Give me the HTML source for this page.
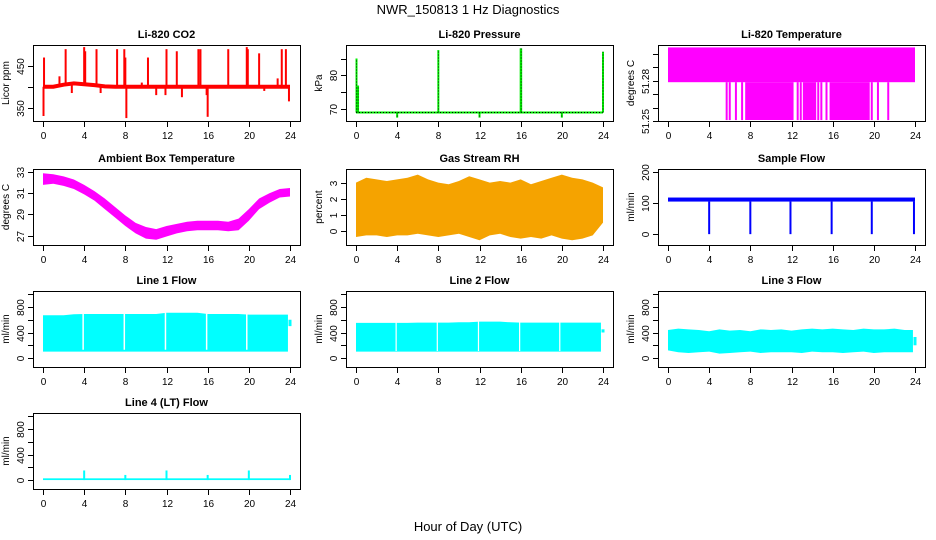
<!DOCTYPE html>
<html><head><meta charset="utf-8">
<style>
html,body{margin:0;padding:0;background:#fff;}
svg{display:block;font-family:"Liberation Sans",Arial,sans-serif;}
</style></head>
<body>
<svg id="fig" width="936" height="540" viewBox="0 0 936 540">
<text x="468" y="14" text-anchor="middle" font-size="13">NWR_150813  1 Hz Diagnostics</text>
<text x="468" y="531" text-anchor="middle" font-size="13">Hour of Day (UTC)</text>
</svg>
<script>
// ---- data ----
const hours = [0,1,2,3,4,5,6,7,8,9,10,11,12,13,14,15,16,17,18,19,20,21,22,23,24];
const xTicks = [0,4,8,12,16,20,24];
// CO2
const co2Base = [400,400,405,408,406,404,401,400,400,400,400,400,400,400,400,400,400,400,400,400,400,400,400,400,400];
const co2SpikeT = [0.05,0.1,1.6,2.2,2.8,4.0,4.1,5.2,5.6,7.2,7.9,8.0,8.1,9.6,10.2,11.0,11.9,12.0,13.0,13.5,15.1,15.3,15.9,16.0,18.0,19.8,19.9,21.0,21.5,22.8,23.2,23.6,23.9];
const co2SpikeV = [330,470,425,490,385,495,485,490,385,490,490,470,325,410,470,380,380,490,485,375,490,490,380,328,490,495,490,480,390,420,490,490,365];
// Pressure
const presBase = 69;
const presSpikeT = [0.05,0.2,4.0,8.0,12.0,16.0,16.05,20.0,24.0];
const presSpikeV = [85,77,67.5,87.5,67.5,88,88,67.5,87];
// Li-820 temperature
const ltTop = 51.305, ltBase = 51.279, ltLow = 51.25;
const ltBlockStart = [7.5,13.1,15.7];
const ltBlockEnd = [12.2,14.4,19.6];
const ltDropT = [5.7,6.0,6.6,7.2,12.6,12.9,14.6,14.9,15.4,19.8,20.4,21.4];
// Ambient box temperature
const ambHi = [32.9,32.8,32.6,32.3,31.8,31.2,30.5,29.7,28.9,28.2,27.8,27.6,27.9,28.1,28.3,28.4,28.4,28.4,28.3,28.6,29.5,30.5,31.0,31.4,31.5];
const ambLo = [31.8,31.9,31.7,31.4,30.9,30.3,29.5,28.7,27.9,27.2,26.7,26.6,26.9,27.2,27.4,27.5,27.5,27.5,27.4,27.5,28.4,29.5,30.1,30.6,30.7];
// Gas stream RH
const rhHi = [3.0,3.3,3.2,3.1,3.2,3.3,3.5,3.2,3.0,2.9,3.1,3.4,3.2,3.0,3.1,3.0,3.2,2.9,3.1,3.3,3.5,3.3,3.2,3.0,2.7];
const rhLo = [-0.4,-0.3,-0.3,-0.4,-0.3,-0.3,-0.2,-0.3,-0.4,-0.3,-0.2,-0.4,-0.6,-0.3,-0.2,-0.4,-0.5,-0.4,-0.5,-0.3,-0.5,-0.6,-0.5,-0.3,0.5];
// Sample flow
const sfHi = 118, sfLo = 105;
const sfDipT = [4,8,11.9,15.9,19.8,23.9];
// Line flows
const l1Hi = [670,670,670,685,690,690,690,690,690,690,690,690,710,710,710,710,690,690,690,690,680,680,680,680,600];
const l1Lo = [100,100,100,100,100,100,100,100,100,100,100,100,100,100,100,100,100,100,100,100,100,100,100,100,500];
const l2Hi = [550,550,550,550,550,550,555,555,555,555,560,560,570,570,570,560,555,555,555,555,555,555,555,555,450];
const l2Lo = [100,100,100,100,100,100,100,100,100,100,100,100,100,100,100,100,100,100,100,100,100,100,100,100,400];
const l3Hi = [440,460,450,440,420,450,430,440,420,450,440,450,430,450,460,450,460,450,440,460,450,450,460,440,330];
const l3Lo = [120,90,80,90,100,70,80,90,100,80,90,90,90,80,100,90,90,80,90,100,80,90,90,90,200];
const l4Base = 15;
const l4SpikeT = [4,8,12,16,20,24];
const l4SpikeV = [150,80,150,80,150,80];

// ---- layout ----
const NS = "http://www.w3.org/2000/svg";
const svg = document.getElementById('fig');
const colX = [33,346,658], rowY = [45,169,291,413], PW = 267, PH = 76;
function mk(tag, attrs, parent){ const e=document.createElementNS(NS,tag); for(const k in attrs) e.setAttribute(k,attrs[k]); (parent||svg).appendChild(e); return e; }

function panel(col,row,title,ylab,ymin,ymax,yticks,ylabels,name){
  const L=colX[col], T=rowY[row];
  const g = mk('g',{});
  
  
  const sx = h => L + 10 + h*(PW-20)/24;
  const sy = v => T+PH - (v-ymin)/(ymax-ymin)*PH;
  const clipId='c'+col+row;
  const cp = mk('clipPath',{id:clipId},g); mk('rect',{x:L,y:T,width:PW,height:PH},cp);
  const plot = mk('g',{'clip-path':'url(#'+clipId+')'},g);
  
  
  const box = mk('rect',{x:L+0.5,y:T+0.5,width:PW,height:PH,fill:'none',stroke:'#000','stroke-width':1},g);
  
  
  const t = mk('text',{x:L+PW/2,y:T-7,'text-anchor':'middle','font-size':11,'font-weight':'bold'},g);
  t.textContent=title;
  
  
  const xa = mk('g',{},g);
  
  
  xTicks.forEach(h=>{
    const x=Math.round(sx(h))+0.5;
    mk('line',{x1:x,x2:x,y1:T+PH,y2:T+PH+6,stroke:'#000'},xa);
    const lt=mk('text',{x:x,y:T+PH+18,'text-anchor':'middle','font-size':10},xa); lt.textContent=h;
  });
  const ya = mk('g',{},g);
  
  
  yticks.forEach((v,i)=>{
    const y=Math.round(sy(v))+0.5;
    mk('line',{x1:L-5,x2:L,y1:y,y2:y,stroke:'#000'},ya);
    if(ylabels[i]!==''){ const lt=mk('text',{x:L-9,y:y,'text-anchor':'middle','font-size':10,transform:'rotate(-90 '+(L-9)+' '+y+')'},ya); lt.textContent=ylabels[i]; }
  });
  const yl = mk('text',{x:L-24,y:T+PH/2,'text-anchor':'middle','font-size':10,transform:'rotate(-90 '+(L-24)+' '+(T+PH/2)+')'},g);
  yl.textContent=ylab;
  
  
  return {sx,sy,plot};
}
function band(p,hi,lo,color){
  let pts=hours.map((h,i)=>p.sx(h)+','+p.sy(hi[i]));
  for(let i=hours.length-1;i>=0;i--) pts.push(p.sx(hours[i])+','+p.sy(lo[i]));
  return mk('polygon',{points:pts.join(' '),fill:color},p.plot);
}
// band ending at 23.8h, last sample drawn as a short segment at 24h
function flowBand(p,hi,lo,color){
  const n=hours.length-1;
  const hx = i => i<n ? hours[i] : 23.8;
  let pts=[];
  for(let i=0;i<n;i++) pts.push(p.sx(hx(i))+','+p.sy(hi[i]));
  pts.push(p.sx(23.8)+','+p.sy(hi[n-1]));
  pts.push(p.sx(23.8)+','+p.sy(lo[n-1]));
  for(let i=n-1;i>=0;i--) pts.push(p.sx(hx(i))+','+p.sy(lo[i]));
  const poly=mk('polygon',{points:pts.join(' '),fill:color},p.plot);
  mk('line',{x1:p.sx(24),x2:p.sx(24),y1:p.sy(hi[n]),y2:p.sy(lo[n]),stroke:color,'stroke-width':3},p.plot);
  return poly;
}
function vline(p,h,v1,v2,color,w){ return mk('line',{x1:p.sx(h),x2:p.sx(h),y1:p.sy(v1),y2:p.sy(v2),stroke:color,'stroke-width':w||1.5},p.plot); }

// CO2
let p = panel(0,0,'Li-820 CO2','Licor ppm',318,500,[350,400,450],['350','','450'],'co2');
co2SpikeT.forEach((t,i)=>{ const b=co2Base[Math.min(24,Math.round(t))]; const e=vline(p,t,b,co2SpikeV[i],'#ff0000',2);
    });
let e = mk('polyline',{points:hours.map((h,i)=>p.sx(h)+','+p.sy(co2Base[i])).join(' '),fill:'none',stroke:'#ff0000','stroke-width':4},p.plot);
 

// Pressure
p = panel(1,0,'Li-820 Pressure','kPa',66.5,89,[70,75,80,85],['70','','80',''],'pressure');
e = mk('line',{x1:p.sx(0),x2:p.sx(24),y1:p.sy(presBase),y2:p.sy(presBase),stroke:'#00ee00','stroke-width':2},p.plot);
 
mk('line',{x1:p.sx(0),x2:p.sx(24),y1:p.sy(presBase),y2:p.sy(presBase),stroke:'#000','stroke-width':1,'stroke-dasharray':'1,2'},p.plot);
presSpikeT.forEach((t,i)=>{ const s=vline(p,t,presBase,presSpikeV[i],'#00ee00',2);
   
  mk('line',{x1:p.sx(t),x2:p.sx(t),y1:p.sy(presBase),y2:p.sy(presSpikeV[i]),stroke:'#000','stroke-width':0.8,'stroke-dasharray':'1,2'},p.plot); });

// Li-820 Temperature
p = panel(2,0,'Li-820 Temperature','degrees C',51.25,51.3068,[51.25,51.26,51.27,51.28,51.29,51.30],['51.25','','','51.28','',''],'li820-temp');
e = mk('rect',{x:p.sx(0),y:p.sy(ltTop),width:p.sx(24)-p.sx(0),height:p.sy(ltBase)-p.sy(ltTop),fill:'#ff00ff'},p.plot);
 
ltBlockStart.forEach((s,i)=>{ const r=mk('rect',{x:p.sx(s),y:p.sy(ltBase),width:p.sx(ltBlockEnd[i])-p.sx(s),height:p.sy(ltLow)-p.sy(ltBase)-1,fill:'#ff00ff'},p.plot);
    });
ltDropT.forEach(t=>{ const l=vline(p,t,ltBase,ltLow+0.0007,'#ff00ff',2);   });

// Ambient
p = panel(0,1,'Ambient Box Temperature','degrees C',26.1,33.3,[27,29,31,33],['27','29','31','33'],'ambient-temp');
e = band(p,ambHi,ambLo,'#ff00ff');  

// RH
p = panel(1,1,'Gas Stream RH','percent',-0.9,3.85,[0,1,2,3],['0','1','2','3'],'rh');
e = band(p,rhHi,rhLo,'#f5a300');  

// Sample flow
p = panel(2,1,'Sample Flow','ml/min',-35,210,[0,100,200],['0','100','200'],'sample-flow');
e = mk('rect',{x:p.sx(0),y:p.sy(sfHi),width:p.sx(24)-p.sx(0),height:p.sy(sfLo)-p.sy(sfHi),fill:'#0000ff'},p.plot);
 
sfDipT.forEach(t=>{ const l=vline(p,t,sfLo,0,'#0000ff',2);   });

// Line flows
const flowTicks=[0,200,400,600,800,1000], flowLabs=['0','','400','','800',''];
p = panel(0,2,'Line 1 Flow','ml/min',-140,1050,flowTicks,flowLabs,'line1-flow');
e = flowBand(p,l1Hi,l1Lo,'#00ffff');  
[3.9,7.9,11.9,15.9,19.8].forEach(t=>mk('line',{x1:p.sx(t),x2:p.sx(t),y1:p.sy(720),y2:p.sy(130),stroke:'#fff','stroke-width':1.5},p.plot));
p = panel(1,2,'Line 2 Flow','ml/min',-140,1050,flowTicks,flowLabs,'line2-flow');
e = flowBand(p,l2Hi,l2Lo,'#00ffff');  
[3.9,7.9,11.9,15.9,19.8].forEach(t=>mk('line',{x1:p.sx(t),x2:p.sx(t),y1:p.sy(600),y2:p.sy(110),stroke:'#fff','stroke-width':1.2},p.plot));
p = panel(2,2,'Line 3 Flow','ml/min',-140,1050,flowTicks,flowLabs,'line3-flow');
e = flowBand(p,l3Hi,l3Lo,'#00ffff');  
p = panel(0,3,'Line 4 (LT) Flow','ml/min',-140,1050,flowTicks,flowLabs,'line4-flow');
e = mk('rect',{x:p.sx(0),y:p.sy(l4Base+12),width:p.sx(24)-p.sx(0),height:p.sy(0)-p.sy(l4Base+12),fill:'#00ffff'},p.plot);
 
l4SpikeT.forEach((t,i)=>{ const l=vline(p,t,0,l4SpikeV[i],'#00ffff',2);   });
</script>
</body></html>
